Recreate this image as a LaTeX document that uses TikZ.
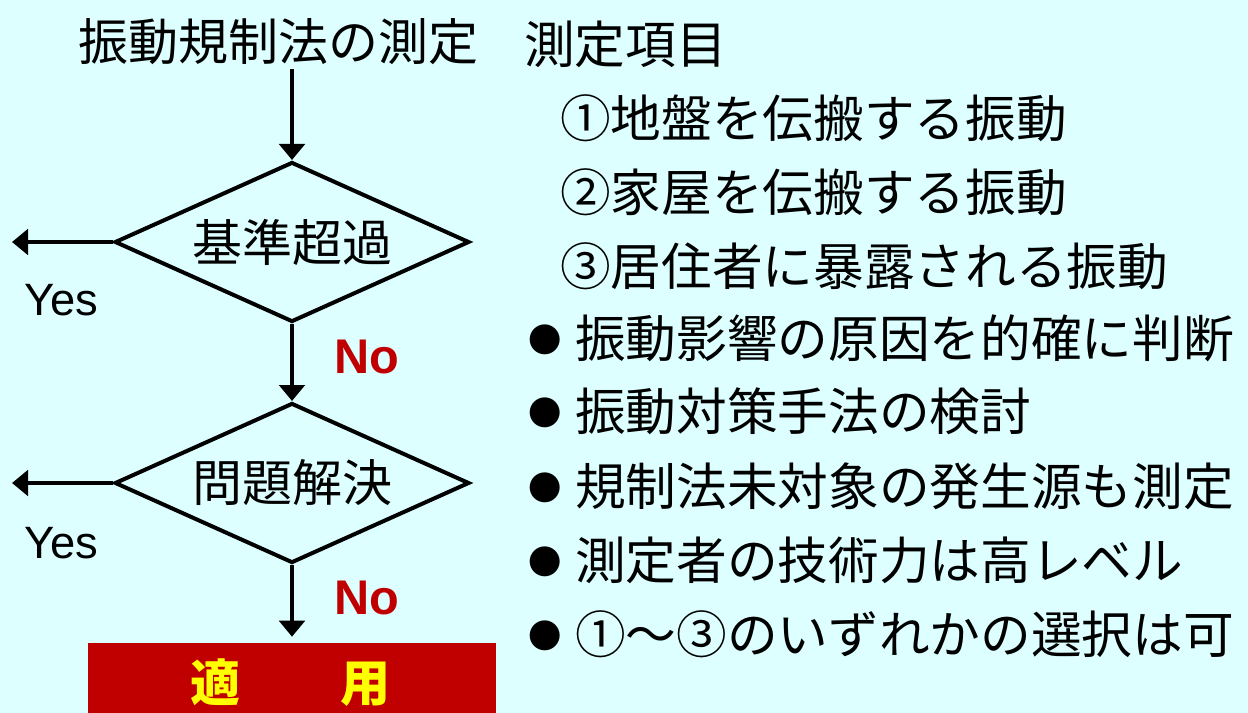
\documentclass[tikz,border=0pt]{standalone}
\usepackage{fontspec}
\setmainfont{Noto Sans CJK JP}
\newfontfamily\latinsans{Liberation Sans}
\usetikzlibrary{arrows.meta,shapes.geometric}
\definecolor{bgcyan}{RGB}{221,255,255}
\definecolor{darkred}{RGB}{192,0,0}
\definecolor{yel}{RGB}{255,255,0}
\begin{document}
\begin{tikzpicture}[x=0.75pt,y=-0.75pt,
  jp/.style={font=\fontsize{37.5pt}{45pt}\selectfont, inner sep=0pt},
  dia/.style={jp, shape=diamond, draw, line width=3pt, aspect=2.22,
    minimum width=266pt, minimum height=120pt},
  arr/.style={line width=3pt, -{Triangle[width=19pt,length=12pt]}},
  yeslbl/.style={font=\latinsans\fontsize{34pt}{40pt}\selectfont, inner sep=0pt},
  nolbl/.style={font=\latinsans\bfseries\fontsize{36.5pt}{42pt}\selectfont, text=darkred, inner sep=0pt},
  applybox/.style={fill=darkred, minimum width=306pt, minimum height=52.5pt, inner sep=0pt},
  applytext/.style={jp, font=\fontsize{37.5pt}{45pt}\selectfont\bfseries, text=yel},
  item/.style={jp, font=\fontsize{38pt}{45pt}\selectfont, anchor=west},
  bullet/.style={inner sep=0pt, font=\fontsize{25pt}{30pt}\selectfont}
]
\fill[bgcyan] (0,0) rectangle (1248,713);
\useasboundingbox (0,0) rectangle (1248,713);

% flowchart
\node[jp] (title) at (278.5,42) {振動規制法の測定};
\node[dia] (d1) at (292,242) {基準超過};
\node[dia] (d2) at (292,483) {問題解決};
\coordinate (y1end) at (12,242);
\coordinate (y2end) at (12,483);
\node[yeslbl] (yes1) at (61,300) {Yes};
\node[yeslbl] (yes2) at (61,543) {Yes};
\node[nolbl] (no1) at (367,357) {No};
\node[nolbl] (no2) at (367,598) {No};
\node[applybox] (apply) at (292,678) {};
\node[applytext] (applytxt) at (290,683) {適　　用};

\draw[arr] ([yshift=-3pt]title.south -| d1.north) -- (d1.north);
\draw[arr] (d1.west) -- (y1end);
\draw[arr] (d1.south) -- (d2.north);
\draw[arr] (d2.west) -- (y2end);
\draw[arr, shorten >=4.5pt] (d2.south) -- (apply.north);

% right list
\node[item] (head) at (524,44) {測定項目};
\node[item] (i1) at (560,118) {①地盤を伝搬する振動};
\node[item] (i2) at (560,192) {②家屋を伝搬する振動};
\node[item] (i3) at (560,266) {③居住者に暴露される振動};
\node[bullet] (b1) at (545,340) {●};
\node[item] (t1) at (575,338) {振動影響の原因を的確に判断};
\node[bullet] (b2) at (545,413) {●};
\node[item] (t2) at (575,411) {振動対策手法の検討};
\node[bullet] (b3) at (545,488) {●};
\node[item] (t3) at (575,486) {規制法未対象の発生源も測定};
\node[bullet] (b4) at (545,562) {●};
\node[item] (t4) at (575,560) {測定者の技術力は高レベル};
\node[bullet] (b5) at (545,636) {●};
\node[item] (t5) at (575,634) {①～③のいずれかの選択は可};
\end{tikzpicture}
\end{document}
